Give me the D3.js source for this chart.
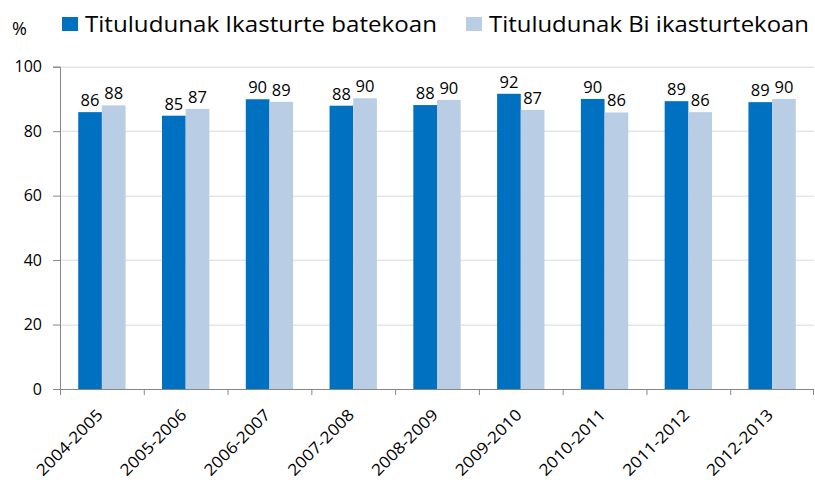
<!DOCTYPE html>
<html>
<head>
<meta charset="utf-8">
<script src="https://cdn.jsdelivr.net/npm/d3@7"></script>
<style>
  body { margin: 0; background: #fff; }
  text { font-family: "Open Sans", sans-serif; fill: #000; }
</style>
</head>
<body>
<div id="chart"></div>
<script>
// chart data
var years = ["2004-2005", "2005-2006", "2006-2007", "2007-2008", "2008-2009",
             "2009-2010", "2010-2011", "2011-2012", "2012-2013"];
var seriesNames = ["Tituludunak Ikasturte batekoan", "Tituludunak Bi ikasturtekoan"];
var oneYear = [85.9, 84.8, 89.9, 87.9, 88.1, 91.6, 90.0, 89.3, 89.0];
var twoYears = [88.0, 86.9, 89.1, 90.2, 89.7, 86.6, 85.8, 85.9, 90.0];
var yTicks = [0, 20, 40, 60, 80, 100];
var colors = ["#0070C0", "#B9CDE5"];

var width = 815, height = 480;
var margin = {top: 66.7, right: 1, bottom: 91, left: 60};

var svg = d3.select("#chart").append("svg")
    .attr("width", width)
    .attr("height", height);

var g = svg.append("g")
    .attr("transform", "translate(" + margin.left + "," + margin.top + ")");

var w = width - margin.left - margin.right;
var h = height - margin.top - margin.bottom;

var x = d3.scaleBand().domain(years).range([0, w]).paddingInner(0.435).paddingOuter(0.2175);
var xFull = d3.scaleBand().domain(years).range([0, w]);
var xSub = d3.scaleBand().domain([0, 1]).range([0, x.bandwidth()]);
var y = d3.scaleLinear().domain([0, 100]).range([h, 0]);

// gridlines
g.selectAll(".grid").data(yTicks.filter(function(d){ return d > 0; }))
  .enter().append("line")
    .attr("x1", 0).attr("x2", w)
    .attr("y1", function(d){ return Math.round(y(d)) + 0.5; })
    .attr("y2", function(d){ return Math.round(y(d)) + 0.5; })
    .attr("stroke", "#d9d9d9").attr("stroke-width", 1);

// bars
var table = years.map(function(yr, i) {
    return {year: yr, vals: [oneYear[i], twoYears[i]]};
});

var groups = g.selectAll(".grp").data(table).enter().append("g")
    .attr("transform", function(d){ return "translate(" + x(d.year) + ",0)"; });

groups.selectAll("rect").data(function(d){ return d.vals; })
  .enter().append("rect")
    .attr("x", function(d, i){ return xSub(i); })
    .attr("width", xSub.bandwidth())
    .attr("y", function(d){ return y(d); })
    .attr("height", function(d){ return h - y(d); })
    .attr("fill", function(d, i){ return colors[i]; });

groups.selectAll(".lbl").data(function(d){ return d.vals; })
  .enter().append("text")
    .attr("x", function(d, i){ return xSub(i) + xSub.bandwidth() / 2; })
    .attr("y", function(d){ return y(d) - 6; })
    .attr("text-anchor", "middle")
    .style("font-size", "16.5px")
    .text(function(d){ return d3.format(".0f")(d); });

// y axis
var yAxis = d3.axisLeft(y).tickValues(yTicks).tickSize(7).tickPadding(11);
var ya = g.append("g").call(yAxis);
ya.select(".domain").attr("stroke", "#868686");
ya.selectAll(".tick line").attr("stroke", "#868686");
ya.selectAll("text").style("font-size", "16px").style("font-family", "'Open Sans', sans-serif").attr("fill", "#000");

// x axis
var xa = g.append("g").attr("transform", "translate(0," + h + ")");
xa.append("line").attr("x1", 0).attr("x2", w).attr("y1", 0.5).attr("y2", 0.5)
    .attr("stroke", "#868686");
xa.selectAll(".xt").data(years.concat(["end"])).enter().append("line")
    .attr("x1", function(d){ return d === "end" ? w - 0.5 : xFull(d) + 0.5; })
    .attr("x2", function(d){ return d === "end" ? w - 0.5 : xFull(d) + 0.5; })
    .attr("y1", 0).attr("y2", 6)
    .attr("stroke", "#868686");
xa.selectAll(".xl").data(years).enter().append("text")
    .attr("transform", function(d){
        return "translate(" + (xFull(d) + xFull.bandwidth() / 2 + 2) + ",27) rotate(-45)";
    })
    .attr("text-anchor", "end")
    .style("font-size", "16px")
    .attr("textLength", 86)
    .attr("lengthAdjust", "spacingAndGlyphs")
    .text(function(d){ return d; });

// unit label
svg.append("text").attr("x", 12).attr("y", 35).style("font-size", "18px").text("%");

// legend
var legendX = [62, 466];
var legendLen = [352, 320];
var legend = svg.selectAll(".leg").data(seriesNames).enter().append("g")
    .attr("transform", function(d, i){ return "translate(" + legendX[i] + ",0)"; });
legend.append("rect").attr("x", 0).attr("y", 17).attr("width", 16).attr("height", 14)
    .attr("fill", function(d, i){ return colors[i]; });
legend.append("text").attr("x", 23).attr("y", 31.5)
    .style("font-size", "21px")
    .attr("textLength", function(d, i){ return legendLen[i]; })
    .attr("lengthAdjust", "spacingAndGlyphs")
    .text(function(d){ return d; });
</script>
</body>
</html>
